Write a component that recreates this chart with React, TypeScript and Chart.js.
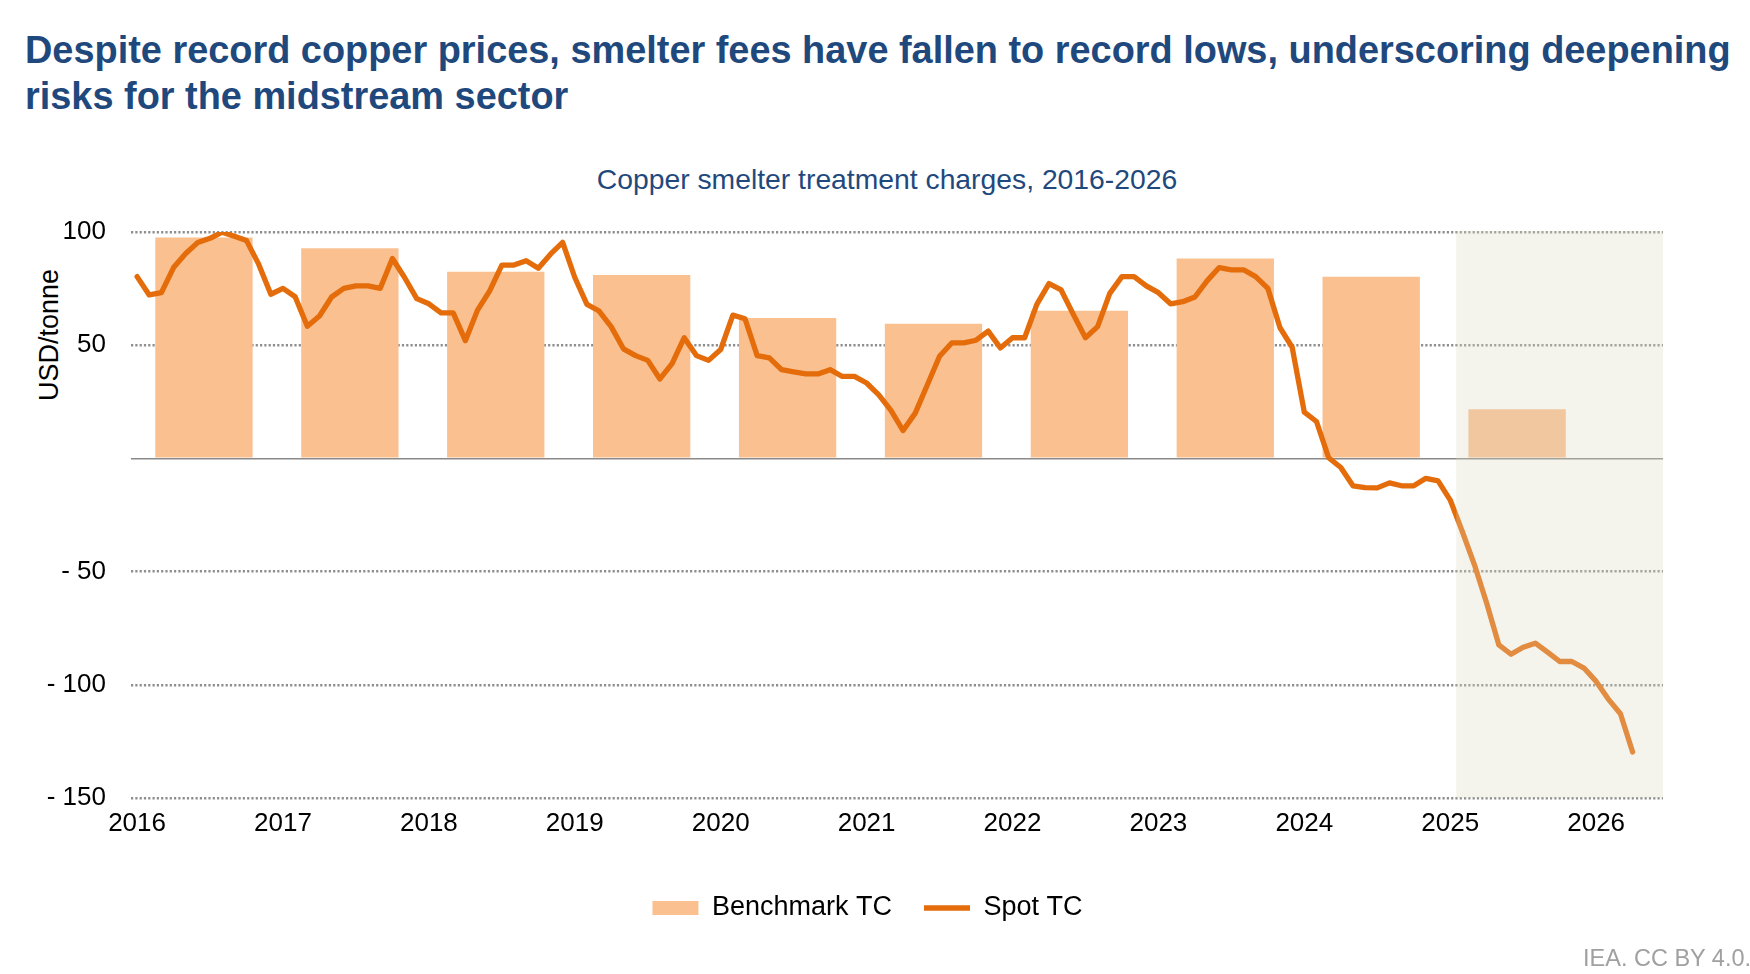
import { useEffect, useRef } from 'react';
import { Chart, registerables } from 'chart.js';

Chart.register(...registerables);

// year labels on the x axis (one tick every 12 months, starting Jan 2016)
const years = ['2016', '2017', '2018', '2019', '2020', '2021', '2022', '2023', '2024', '2025', '2026'];

// annual benchmark treatment charges, USD/tonne
const benchmarkYears = ['2016', '2017', '2018', '2019', '2020', '2021', '2022', '2023', '2024', '2025'];
const benchmarkTC = [97.6, 92.8, 82.4, 81, 62, 59.5, 65.2, 88.3, 80.2, 21.7];

// monthly spot treatment charges, Jan 2016 -> Apr 2026
const spotTC = [
  80.3, 72.2, 73.2, 84.3, 90.5, 95.4, 97.2, 99.9, 98.1, 96.2, 85.8, 72.5,
  75.1, 71.4, 58.4, 62.9, 71.3, 75.1, 76.2, 76.2, 75.1, 88.3, 79.9, 70.6,
  68.3, 64.3, 64.3, 52, 65.5, 74, 85.4, 85.4, 87.3, 84, 90.2, 95.4,
  79.9, 68, 65.1, 58.1, 48.4, 45.4, 43.3, 35.1, 41.9, 53.3, 45.4, 43.3,
  48.1, 63.3, 61.7, 45.4, 44.4, 39.2, 38.2, 37.3, 37.3, 39.2, 36.2, 36.2,
  33.3, 28.1, 21.2, 12.3, 20, 32.5, 45.1, 51, 51, 52.2, 56.2, 48.8,
  53.3, 53.3, 68, 77.2, 74.4, 63.6, 53.3, 58.2, 72.9, 80.3, 80.3, 76.2,
  73.2, 68.3, 69.2, 71.3, 78.4, 84.3, 83.3, 83.3, 80.3, 75.1, 57.7, 49.1,
  20.4, 16.3, 0.3, -4, -12.1, -12.9, -13, -10.8, -12.1, -12.1, -8.8, -9.9,
  -18.4, -32.4, -47.1, -64, -82.4, -86.5, -83.4, -81.6, -85.6, -89.7, -89.7, -92.6,
  -98.5, -106.3, -112.8, -129.7,
];

// month index where the projection shading starts
const forecastStart = 108.5;

const FONT = '"Liberation Sans", Arial, sans-serif';
const BLUE = '#1F497D';
const LINE = '#E46C0A';
const BAR = '#FAC090';

// semi-transparent box over the projection period
const shadePlugin = {
  id: 'forecastShade',
  afterDatasetsDraw(chart: any) {
    const { ctx, chartArea, scales } = chart;
    const left = scales.x.getPixelForValue(forecastStart);
    ctx.save();
    ctx.fillStyle = 'rgba(218, 215, 193, 0.3)';
    ctx.fillRect(left, chartArea.top - 1, chartArea.right - left, chartArea.bottom - chartArea.top + 1);
    ctx.restore();
  },
};

// legend sits a little right of the canvas centre in the original
const legendNudge = {
  id: 'legendNudge',
  afterLayout(chart: any) {
    if (chart.legend) {
      chart.legend.left += 14;
      chart.legend.right += 14;
    }
  },
};

function TCChart() {
  const canvasRef = useRef<HTMLCanvasElement>(null);
  const chartRef = useRef<Chart | null>(null);

  useEffect(() => {
    if (!canvasRef.current) return;
    chartRef.current?.destroy();

    chartRef.current = new Chart(canvasRef.current, {
      type: 'bar',
      data: {
        datasets: [
          {
            type: 'bar',
            label: 'Benchmark TC',
            data: benchmarkTC.map((v, i) => ({ x: years.indexOf(benchmarkYears[i]) * 12 + 5.5, y: v })),
            backgroundColor: BAR,
            borderWidth: 0,
            barPercentage: 0.667,
            categoryPercentage: 1,
            pointStyle: 'rect',
            order: 2,
          } as any,
          {
            type: 'line',
            label: 'Spot TC',
            data: spotTC.map((v, i) => ({ x: i, y: v })),
            borderColor: LINE,
            backgroundColor: LINE,
            borderWidth: 5.3,
            borderCapStyle: 'round',
            borderJoinStyle: 'round',
            tension: 0,
            pointRadius: 0,
            pointHoverRadius: 0,
            pointStyle: 'line',
            pointBorderColor: LINE,
            pointBorderWidth: 5.3,
            order: 1,
          } as any,
        ],
      },
      options: {
        responsive: false,
        animation: false,
        events: [],
        layout: { padding: { left: 44, right: 87, top: 232, bottom: 42.5 } },
        scales: {
          x: {
            type: 'linear',
            offset: false,
            min: -0.5,
            max: 125.5,
            grid: { display: false },
            border: { display: false },
            afterBuildTicks: (scale: any) => {
              scale.ticks = years.map((_, i) => ({ value: i * 12 }));
            },
            afterFit: (scale: any) => {
              scale.height = 64.5;
            },
            ticks: {
              autoSkip: false,
              maxRotation: 0,
              padding: 2,
              color: '#000',
              font: { family: FONT, size: 26 },
              callback: (v: any) => years[Math.round(Number(v) / 12)] ?? '',
            },
          },
          y: {
            min: -150,
            max: 100,
            afterFit: (scale: any) => {
              scale.width = 87;
            },
            ticks: {
              stepSize: 50,
              padding: 25,
              color: '#000',
              font: { family: FONT, size: 26 },
              callback: (v: any) => (v === 0 ? '' : v < 0 ? '- ' + Math.abs(v) : String(v)),
            },
            grid: {
              drawTicks: false,
              color: (ctx: any) => (ctx.tick?.value === 0 ? '#8A8A8A' : '#8E8E8E'),
              lineWidth: (ctx: any) => (ctx.tick?.value === 0 ? 1.6 : 2.4),
            },
            border: {
              display: false,
              dash: (ctx: any) => (ctx.tick?.value === 0 ? [] : [2.2, 2.1]),
            },
          },
        },
        plugins: {
          title: { display: false },
          tooltip: { enabled: false },
          legend: {
            position: 'bottom',
            align: 'center',
            reverse: true,
            labels: {
              usePointStyle: true,
              pointStyleWidth: 46,
              boxHeight: 14,
              padding: 32,
              color: '#000',
              font: { family: FONT, size: 27 },
            },
          },
        },
      } as any,
      plugins: [shadePlugin, legendNudge],
    });

    return () => {
      chartRef.current?.destroy();
      chartRef.current = null;
    };
  }, []);

  return (
    <canvas
      ref={canvasRef}
      width={1750}
      height={974}
      style={{ position: 'absolute', left: 0, top: 0, width: 1750, height: 974 }}
    />
  );
}

export default function App() {
  return (
    <div
      style={{
        position: 'absolute',
        left: 0,
        top: 0,
        width: 1750,
        height: 974,
        background: '#fff',
        overflow: 'hidden',
        fontFamily: FONT,
      }}
    >
      <div
        style={{
          position: 'absolute',
          left: 25,
          top: 27,
          fontSize: 37.9,
          fontWeight: 'bold',
          lineHeight: '46px',
          color: BLUE,
          whiteSpace: 'nowrap',
        }}
      >
        Despite record copper prices, smelter fees have fallen to record lows, underscoring deepening
        <br />
        risks for the midstream sector
      </div>
      <div
        style={{
          position: 'absolute',
          left: 887,
          top: 162,
          transform: 'translateX(-50%)',
          fontSize: 28.3,
          lineHeight: '34px',
          color: BLUE,
          whiteSpace: 'nowrap',
        }}
      >
        Copper smelter treatment charges, 2016-2026
      </div>
      <div
        style={{
          position: 'absolute',
          left: 49,
          top: 335,
          transform: 'translate(-50%, -50%) rotate(-90deg)',
          fontSize: 27,
          lineHeight: '32px',
          color: '#000',
          whiteSpace: 'nowrap',
        }}
      >
        USD/tonne
      </div>
      <TCChart />
      <div
        style={{
          position: 'absolute',
          left: 1583,
          top: 945,
          fontSize: 23.5,
          lineHeight: '26px',
          color: '#A0A0A0',
          whiteSpace: 'nowrap',
        }}
      >
        IEA. CC BY 4.0.
      </div>
    </div>
  );
}
